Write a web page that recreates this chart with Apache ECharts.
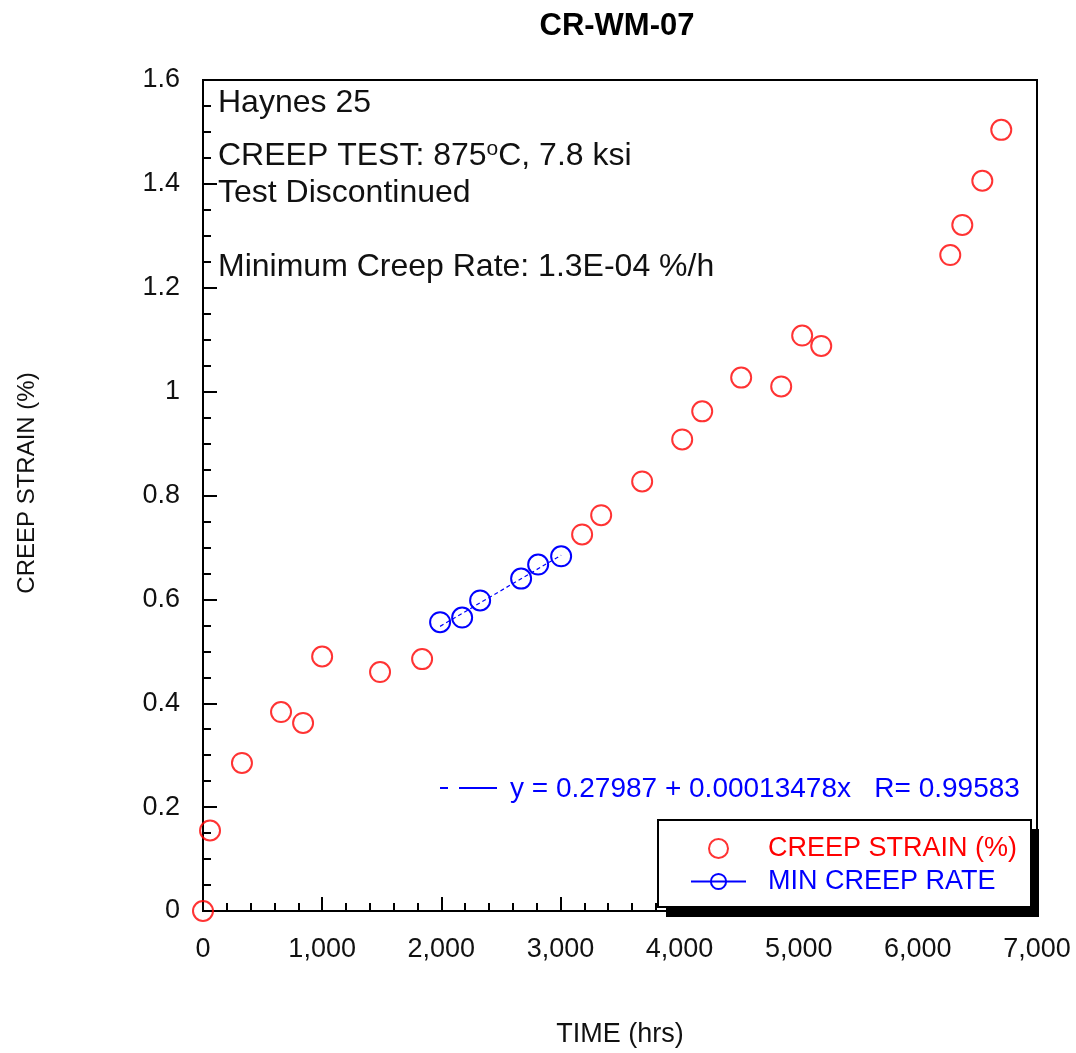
<!DOCTYPE html>
<html>
<head>
<meta charset="utf-8">
<script src="https://cdn.jsdelivr.net/npm/echarts@6/dist/echarts.min.js"></script>
<style>
html,body{margin:0;padding:0;background:#fff;}
#chart{width:1076px;height:1053px;}
</style>
</head>
<body>
<div id="chart"></div>
<script>
// Creep strain data (time in hrs, strain in %)
var strainTime = [0, 59, 327, 655, 840, 1000, 1486, 1839, 3182, 3342, 3686, 4022, 4190, 4517, 4853, 5029, 5189, 6272, 6373, 6541, 6700];
var strainVal  = [0, 0.155, 0.285, 0.383, 0.362, 0.490, 0.460, 0.485, 0.725, 0.762, 0.827, 0.908, 0.962, 1.027, 1.010, 1.108, 1.088, 1.263, 1.321, 1.406, 1.504];
// Minimum creep rate points
var minTime = [1990, 2175, 2326, 2670, 2813, 3006];
var minVal  = [0.556, 0.565, 0.598, 0.640, 0.667, 0.683];
// Fit line endpoints
var fitTime = [1990, 3006];
var fitVal  = [0.548, 0.685];
// Axis ticks
var xTicks = {min: 0, max: 7000, interval: 1000};
var yTicks = {min: 0, max: 1.6, interval: 0.2};

var FONT = '"Liberation Sans", Arial, sans-serif';
var chart = echarts.init(document.getElementById('chart'), null, {renderer: 'canvas'});

function zip(a, b) { return a.map(function (v, i) { return [v, b[i]]; }); }
function f(size, bold) { return (bold ? 'bold ' : '') + size + 'px "Liberation Sans", Arial, sans-serif'; }

var option = {
  backgroundColor: '#fff',
  animation: false,
  textStyle: {fontFamily: FONT},
  grid: {left: 203, right: 39, top: 80, bottom: 141, show: true, borderColor: '#000', borderWidth: 2, backgroundColor: 'transparent'},
  xAxis: {
    type: 'value', min: xTicks.min, max: xTicks.max, interval: xTicks.interval,
    name: 'TIME (hrs)', nameLocation: 'middle', nameGap: 110,
    nameTextStyle: {fontSize: 27, color: '#111', fontFamily: FONT},
    axisLine: {show: true, onZero: false, lineStyle: {color: '#000', width: 2}},
    axisTick: {show: true, inside: true, length: 14, lineStyle: {color: '#000', width: 2}},
    minorTick: {show: true, splitNumber: 5, length: 8, lineStyle: {color: '#000', width: 2}},
    splitLine: {show: false},
    axisLabel: {fontSize: 27, color: '#111', margin: 25, fontFamily: FONT,
      formatter: function (v) { return v.toLocaleString('en-US'); }}
  },
  yAxis: {
    type: 'value', min: yTicks.min, max: yTicks.max, interval: yTicks.interval,
    axisLine: {show: true, onZero: false, lineStyle: {color: '#000', width: 2}},
    axisTick: {show: true, inside: true, length: 14, lineStyle: {color: '#000', width: 2}},
    minorTick: {show: true, splitNumber: 4, length: 8, lineStyle: {color: '#000', width: 2}},
    splitLine: {show: false},
    axisLabel: {fontSize: 27, color: '#111', margin: 23, fontFamily: FONT}
  },
  legend: {
    left: 655, top: 820, orient: 'vertical', align: 'left', z: 20,
    padding: [15, 14, 12, 35], itemGap: 6, itemWidth: 55, itemHeight: 19,
    textStyle: {fontSize: 27, fontFamily: FONT, padding: [0, 0, 0, 17]},
    data: [
      {name: 'CREEP STRAIN (%)', textStyle: {color: '#ff0000'}},
      {name: 'MIN CREEP RATE', textStyle: {color: '#0000ff'}, lineStyle: {width: 2, opacity: 1, color: '#0000ff', type: 'solid'}}
    ]
  },
  series: [
    {
      name: 'CREEP STRAIN (%)', type: 'scatter', data: zip(strainTime, strainVal),
      symbol: 'circle', symbolSize: 20,
      itemStyle: {color: 'rgba(255,255,255,0)', borderColor: '#ff0000', borderWidth: 2},
      z: 3
    },
    {
      name: 'MIN CREEP RATE', type: 'line', data: zip(minTime, minVal),
      symbol: 'circle', symbolSize: 20, showSymbol: true,
      lineStyle: {width: 0, opacity: 0, color: '#0000ff'},
      itemStyle: {color: 'rgba(255,255,255,0)', borderColor: '#0000ff', borderWidth: 2},
      z: 4
    },
    {
      name: 'fit', type: 'line', data: zip(fitTime, fitVal),
      symbol: 'none', silent: true,
      lineStyle: {width: 1.2, color: '#0000ff', type: [4, 3]},
      z: 5
    }
  ],
  graphic: [
    {type: 'text', x: 617, y: 26, style: {text: 'CR-WM-07', font: f(31, true), fill: '#000', align: 'center', verticalAlign: 'middle'}},
    {type: 'text', x: 27, y: 483, rotation: Math.PI / 2, style: {text: 'CREEP STRAIN (%)', font: f(24), fill: '#111', align: 'center', verticalAlign: 'middle'}},
    {type: 'text', x: 218, y: 103, style: {text: 'Haynes 25', font: f(32), fill: '#111', verticalAlign: 'middle'}},
    {type: 'text', x: 218, y: 156, style: {text: 'CREEP TEST: 875{sup|o}C, 7.8 ksi', font: f(32), fill: '#111', verticalAlign: 'middle',
      rich: {sup: {fontSize: 21, fontFamily: FONT, fill: '#111', verticalAlign: 'top', padding: [0, 0, 14, 0]}}}},
    {type: 'text', x: 218, y: 193, style: {text: 'Test Discontinued', font: f(32), fill: '#111', verticalAlign: 'middle'}},
    {type: 'text', x: 218, y: 267, style: {text: 'Minimum Creep Rate: 1.3E-04 %/h', font: f(32), fill: '#111', verticalAlign: 'middle'}},
    {type: 'line', shape: {x1: 440, y1: 788, x2: 448, y2: 788}, style: {stroke: '#0000ff', lineWidth: 2}},
    {type: 'line', shape: {x1: 459, y1: 788, x2: 497, y2: 788}, style: {stroke: '#0000ff', lineWidth: 2}},
    {type: 'text', x: 510, y: 789, style: {text: 'y = 0.27987 + 0.00013478x   R= 0.99583', font: f(28), fill: '#0000ff', verticalAlign: 'middle'}},
    {type: 'rect', z: 10, shape: {x: 666, y: 829, width: 373, height: 88}, style: {fill: '#000'}},
    {type: 'rect', z: 11, shape: {x: 658, y: 820, width: 373, height: 87}, style: {fill: '#fff', stroke: '#000', lineWidth: 2}}
  ]
};
chart.setOption(option);
</script>
</body>
</html>
